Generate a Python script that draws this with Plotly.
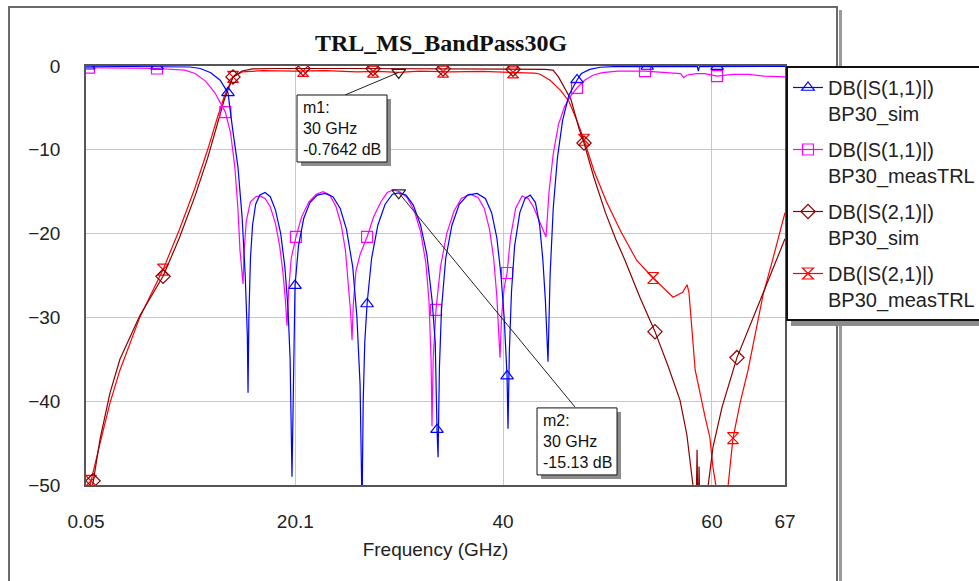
import numpy as np
import plotly.graph_objects as go

# ---------------- data (frequency in GHz, magnitude in dB) ----------------
s11_sim_f = [0.05, 5.0, 9.0, 10.0, 11.0, 12.0, 12.9, 13.65, 14.1, 14.6, 15.0, 15.3, 15.5, 15.57,
             15.65, 15.8, 16.0, 16.3, 16.7, 17.2, 17.7, 18.2, 18.7, 19.1, 19.4, 19.6, 19.78,
             19.95, 20.07, 20.4, 20.9, 21.5, 22.2, 22.94, 23.7, 24.4, 25.0, 25.6, 26.0, 26.3, 26.49,
             26.6, 26.75, 26.97, 27.4, 28.0, 28.7, 29.4, 30.0, 30.7, 31.4, 32.1, 32.7, 33.2, 33.5, 33.67, 33.77,
             33.9, 34.1, 34.5, 35.1, 35.8, 36.6, 37.5, 38.3, 38.9, 39.4, 39.8, 40.1, 40.38, 40.47,
             40.6, 40.8, 41.1, 41.6, 42.1, 42.6, 43.1, 43.5, 43.8, 44.05, 44.3,
             44.5, 44.8, 45.2, 45.7, 46.3, 47.08, 47.5, 48.3, 49.3, 51.0, 58.6, 58.7, 58.8, 67.0]
s11_sim_db = [-0.03, -0.04, -0.08, -0.12, -0.3, -0.8, -1.7, -3.2, -7.6, -12.0, -18.0, -25.0, -32.0, -39.0,
              -30.0, -23.0, -19.0, -16.5, -15.4, -15.1, -15.6, -17.2, -20.0, -24.0, -29.0, -35.0, -49.0,
              -33.0, -26.2, -21.5, -18.2, -16.3, -15.4, -15.2, -15.6, -17.0, -19.5, -24.0, -30.0, -38.0, -53.0,
              -40.0, -33.0, -28.4, -23.0, -19.0, -16.5, -15.3, -15.13, -15.4, -16.6, -19.0, -22.5, -28.0, -33.0, -43.4, -46.7,
              -36.0, -29.0, -23.0, -19.0, -16.5, -15.4, -15.2, -15.8, -17.5, -20.5, -25.0, -30.0, -37.0, -43.3,
              -34.0, -27.0, -21.5, -17.5, -15.8, -15.4, -16.3, -19.0, -23.0, -28.0, -35.3,
              -25.0, -17.0, -11.0, -6.5, -3.5, -1.67, -0.9, -0.4, -0.15, -0.05, -0.08, -0.6, -0.08, -0.05]

s11_meas_f = [0.05, 6.85, 9.5, 10.5, 11.5, 12.4, 13.4, 13.9, 14.3, 14.6, 14.8, 15.09,
              15.2, 15.4, 15.8, 16.3, 16.72, 17.2, 17.7, 18.2, 18.6, 18.9, 19.15, 19.3,
              19.45, 19.7, 20.16, 20.7, 21.4, 22.1, 22.75, 23.4, 24.0, 24.5, 24.9, 25.2, 25.4, 25.53,
              25.65, 25.9, 26.3, 26.97, 27.6, 28.3, 28.9, 29.46, 30.1, 30.8, 31.5, 32.1, 32.6, 32.9, 33.1, 33.19,
              33.3, 33.57, 34.0, 34.6, 35.3, 36.0, 36.83, 37.6, 38.2, 38.7, 39.1, 39.4, 39.6, 39.7,
              39.85, 40.1, 40.38, 40.7, 41.2, 41.81, 42.4, 42.9, 43.4, 43.8, 44.11,
              44.4, 44.8, 45.3, 45.9, 46.5, 47.08, 47.8, 48.6, 49.5, 51.0, 53.59, 55.0, 57.0, 57.3, 57.6,
              58.0, 58.6, 59.3, 60.49, 62.0, 63.5, 65.0, 67.0]
s11_meas_db = [-0.2, -0.3, -0.5, -0.9, -1.8, -3.2, -5.5, -8.0, -12.0, -17.0, -22.0, -26.0,
               -22.0, -18.5, -16.2, -15.6, -15.5, -15.8, -16.8, -18.8, -21.5, -24.5, -28.0, -31.0,
               -27.0, -23.0, -20.4, -18.0, -16.2, -15.3, -15.0, -15.4, -16.8, -19.0, -22.0, -26.0, -29.5, -32.7,
               -28.5, -24.5, -22.5, -20.4, -18.0, -16.2, -15.1, -14.8, -15.0, -15.7, -17.3, -19.8, -23.5, -28.0, -35.0, -43.0,
               -35.0, -29.1, -24.0, -20.0, -17.3, -15.8, -15.3, -15.7, -17.0, -19.5, -23.0, -27.5, -31.5, -34.8,
               -30.0, -26.5, -24.7, -20.5, -17.0, -15.5, -15.8, -16.8, -18.3, -19.5, -20.4,
               -15.0, -10.5, -7.0, -4.8, -3.5, -2.6, -1.7, -1.1, -0.8, -0.6, -0.6, -0.7, -0.9, -1.4, -1.1,
               -1.0, -0.9, -0.9, -1.2, -1.0, -1.0, -1.2, -1.3]

s21_sim_f = [0.05, 0.72, 1.4, 2.35, 3.3, 5.2, 7.43, 9.0, 10.5, 11.7, 12.6, 13.3, 14.13, 15.0, 16.0, 18.0,
             25.0, 35.0, 44.0, 44.78, 45.3, 46.5, 47.3, 47.75, 48.7, 49.8, 50.8, 51.68, 53.1, 54.55,
             55.8, 56.95, 57.6, 58.2, 58.45, 58.58, 58.68, 58.77, 58.9, 59.3, 59.63, 60.1, 60.97,
             62.4, 63.7, 64.9, 66.2, 67.0]
s21_sim_db = [-55.0, -49.5, -44.5, -39.0, -35.0, -29.8, -25.1, -20.5, -15.5, -11.0, -7.0, -4.0, -1.3, -0.6, -0.35, -0.3,
              -0.3, -0.35, -0.4, -0.5, -1.3, -4.0, -7.6, -9.2, -13.3, -17.5, -20.7, -23.2, -27.6, -31.7,
              -35.8, -39.9, -44.0, -50.2, -56.0, -45.8, -56.0, -47.8, -57.0, -58.0, -50.2, -45.5, -40.7,
              -34.8, -30.8, -27.3, -23.1, -20.6]

s21_meas_f = [0.05, 0.53, 1.4, 2.35, 3.3, 5.2, 7.43, 9.0, 10.5, 11.7, 12.6, 13.3, 14.13, 15.0, 17.0, 20.0,
              23.0, 26.0, 28.0, 30.0, 32.0, 35.0, 38.0, 40.95, 43.0, 43.5, 44.5, 45.5, 46.3, 47.0, 47.75,
              48.7, 49.9, 51.3, 52.8, 54.37, 55.4, 56.28, 57.2, 57.62, 57.8, 58.4, 59.35, 59.8, 60.1, 60.4,
              60.9, 61.54, 62.02, 62.7, 63.46, 64.9, 65.8, 67.0]
s21_meas_db = [-53.0, -49.5, -45.0, -40.2, -36.3, -30.0, -24.3, -19.5, -14.5, -10.0, -6.3, -3.6, -1.3, -0.7, -0.55, -0.6,
               -0.55, -0.7, -0.65, -0.7642, -0.6, -0.7, -0.65, -0.75, -0.85, -0.95, -1.7, -2.9, -4.2, -6.3, -8.8,
               -12.5, -16.2, -19.8, -23.2, -25.3, -26.6, -27.6, -27.0, -26.1, -27.0, -36.3, -41.9, -44.3, -47.9, -50.2,
               -56.0, -50.2, -44.4, -40.2, -36.3, -27.3, -23.2, -17.5]

# frequencies where each trace carries a symbol
s11_sim_mk = [0.3, 6.85, 13.65, 20.07, 26.97, 33.67, 40.38, 47.08, 53.8, 60.5]
s11_meas_mk = [0.34, 6.85, 13.4, 20.16, 26.97, 33.57, 40.38, 47.08, 53.59, 60.49]
s21_sim_mk = [0.72, 7.43, 14.13, 20.84, 27.54, 34.25, 40.95, 47.75, 54.55, 62.4]
s21_meas_mk = [0.53, 7.43, 14.13, 20.84, 27.54, 34.25, 40.95, 47.75, 54.37, 62.02]

# markers m1 / m2
m1_f, m1_db = 30.0, -0.7642
m2_f, m2_db = 30.0, -15.13

x_ticks = [0.05, 20.1, 40, 60, 67]
x_tick_text = ["0.05", "20.1", "40", "60", "67"]
y_ticks = [0, -10, -20, -30, -40, -50]

series = [
    ("DB(|S(1,1)|)<br>BP30_sim", s11_sim_f, s11_sim_db, s11_sim_mk, "#0000ff", "triangle-up-open"),
    ("DB(|S(1,1)|)<br>BP30_measTRL", s11_meas_f, s11_meas_db, s11_meas_mk, "#ff00ff", "square-open"),
    ("DB(|S(2,1)|)<br>BP30_sim", s21_sim_f, s21_sim_db, s21_sim_mk, "#8b0000", "diamond-open"),
    ("DB(|S(2,1)|)<br>BP30_measTRL", s21_meas_f, s21_meas_db, s21_meas_mk, "#ff0000", "hourglass-open"),
]

# ---------------- figure ----------------
W, H = 979, 581
ML, MR, MT, MB = 86, 194, 66, 96
PW, PH = W - ML - MR, H - MT - MB


def px_x(p):
    return (p - ML) / PW


def px_y(p):
    return (H - MB - p) / PH


fig = go.Figure()

# curves (drawn in reverse so the S11 traces sit on top)
for name, f, db, mk, col, sym in reversed(series):
    fig.add_trace(go.Scatter(x=f, y=db, mode="lines", line=dict(color=col, width=1.2),
                             showlegend=False, hoverinfo="skip"))
    fig.add_trace(go.Scatter(x=mk, y=np.interp(mk, f, db), mode="markers",
                             marker=dict(symbol=sym, size=11, color=col, line=dict(color=col, width=1.2)),
                             showlegend=False, hoverinfo="skip"))

# legend entries
for i, (name, f, db, mk, col, sym) in enumerate(series):
    fig.add_trace(go.Scatter(x=[None], y=[None], mode="lines+markers", name=name,
                             legendgroup=f"g{i}",
                             line=dict(color=col, width=1.2),
                             marker=dict(symbol=sym, size=11, color=col, line=dict(color=col, width=1.2))))

# marker symbols m1 / m2
fig.add_trace(go.Scatter(x=[m1_f, m2_f], y=[m1_db, m2_db], mode="markers", showlegend=False,
                         marker=dict(symbol="triangle-down-open", size=12, color="#222",
                                     line=dict(color="#222", width=1.2)),
                         cliponaxis=False, hoverinfo="skip"))

# marker readout boxes: leader line, shadow, box and text
# (marker f, marker dB, label, leader end f, leader end dB, box centre f, box centre dB, half width px)
boxes = [
    (m1_f, m1_db, "m1:", 24.86, -3.46, 24.57, -7.46, 45),
    (m2_f, m2_db, "m2:", 46.89, -40.7, 47.08, -44.8, 40),
]
HALF_H = 33.5
shapes = []
annotations = []
for mf, mdb, lab, lx, ly, bx, by, hw in boxes:
    shapes.append(dict(type="line", xref="x", yref="y", x0=mf, y0=mdb, x1=lx, y1=ly,
                       line=dict(color="#222", width=1)))
    shapes.append(dict(type="rect", xref="x", yref="y", xsizemode="pixel", ysizemode="pixel",
                       xanchor=bx, yanchor=by, x0=-hw + 4, x1=hw + 4, y0=-HALF_H - 4, y1=HALF_H - 4,
                       fillcolor="#8c8c8c", line=dict(width=0)))
    shapes.append(dict(type="rect", xref="x", yref="y", xsizemode="pixel", ysizemode="pixel",
                       xanchor=bx, yanchor=by, x0=-hw, x1=hw, y0=-HALF_H, y1=HALF_H,
                       fillcolor="white", line=dict(color="#111", width=1)))
    txt = f"{lab}<br>{mf:g} GHz<br>{mdb:g} dB"
    annotations.append(dict(x=bx, y=by, xref="x", yref="y", text=txt, showarrow=False, align="left",
                            xanchor="center", yanchor="middle",
                            font=dict(family="Arial, Liberation Sans", size=16, color="#111")))

# chart title
annotations.append(dict(x=px_x(441), y=px_y(43), xref="paper", yref="paper", showarrow=False,
                        xanchor="center", yanchor="middle",
                        text="<b>TRL_MS_BandPass30G</b>",
                        font=dict(family="Times New Roman, Liberation Serif", size=24, color="#111")))

# outer frame with shadow
shapes.append(dict(type="rect", xref="paper", yref="paper", layer="below",
                   x0=px_x(839), x1=px_x(842), y0=px_y(600), y1=px_y(10),
                   fillcolor="#9a9a9a", line=dict(width=0)))
shapes.append(dict(type="rect", xref="paper", yref="paper", layer="below",
                   x0=px_x(9), x1=px_x(837), y0=px_y(600), y1=px_y(7),
                   fillcolor="rgba(0,0,0,0)", line=dict(color="#6a6a6a", width=2)))
# legend shadow
shapes.append(dict(type="rect", xref="paper", yref="paper", layer="above",
                   x0=px_x(791), x1=px_x(990), y0=px_y(326), y1=px_y(318),
                   fillcolor="#8c8c8c", line=dict(width=0)))

fig.update_layout(
    width=W, height=H,
    margin=dict(l=ML, r=MR, t=MT, b=MB, pad=0, autoexpand=False),
    paper_bgcolor="white", plot_bgcolor="white",
    font=dict(family="Arial, Liberation Sans", size=19, color="#222"),
    shapes=shapes, annotations=annotations,
    legend=dict(x=px_x(786), y=1.0, xanchor="left", yanchor="top",
                bgcolor="white", bordercolor="#111", borderwidth=2,
                font=dict(family="Arial, Liberation Sans", size=20, color="#222"),
                tracegroupgap=7, itemwidth=30, valign="top"),
    xaxis=dict(range=[0.05, 67], tickvals=x_ticks, ticktext=x_tick_text,
               showgrid=True, gridcolor="#c8c8c8", gridwidth=1, zeroline=False,
               showline=True, linecolor="#555", linewidth=1.5, mirror=True,
               ticks="outside", ticklen=18, tickcolor="rgba(0,0,0,0)",
               tickfont=dict(size=19),
               title=dict(text="Frequency (GHz)", font=dict(size=19), standoff=12)),
    yaxis=dict(range=[-50, 0], tickvals=y_ticks,
               showgrid=True, gridcolor="#c8c8c8", gridwidth=1, zeroline=False,
               showline=True, linecolor="#555", linewidth=1.5, mirror=True,
               ticks="outside", ticklen=20, tickcolor="rgba(0,0,0,0)",
               tickfont=dict(size=19)),
)

fig.write_html("out.html")
